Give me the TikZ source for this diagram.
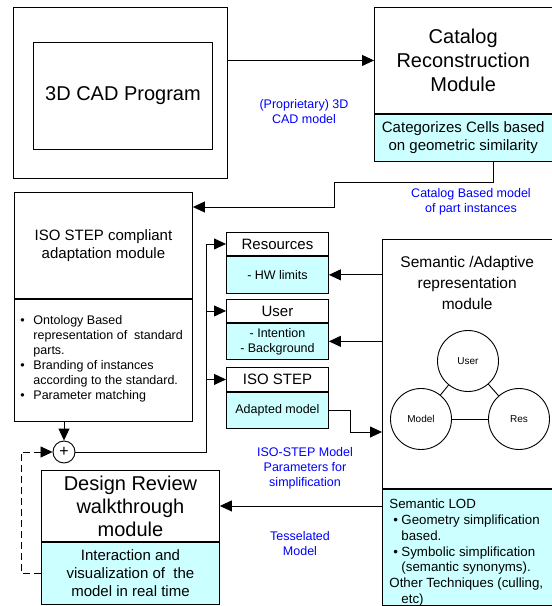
\documentclass[tikz,border=0pt]{standalone}
\usepackage{fontspec}
\setmainfont{Liberation Sans}
\usetikzlibrary{positioning,arrows.meta}
\definecolor{lodcyan}{HTML}{CCFFFF}
\definecolor{notetext}{HTML}{0000FF}
\newcommand{\isobul}{\makebox[13pt][l]{\textbullet}}
\newcommand{\isogap}{\makebox[13pt][l]{}}
\newcommand{\lodbul}{\makebox[4pt]{}\makebox[8pt][l]{\textbullet}}
\newcommand{\lodgap}{\makebox[12pt][l]{}}

\tikzset{
  part/.style={draw, inner sep=0pt, anchor=north west, align=center},
  subpart/.style={part, fill=lodcyan},
  flow/.style={-{Triangle[length=12pt,width=11pt]}},
  note/.style={text=notetext, align=center, font=\fontsize{12.5}{15}\selectfont},
  bigtext/.style={font=\fontsize{20}{24}\selectfont},
  midtext/.style={font=\fontsize{15}{18}\selectfont},
  smalltext/.style={font=\fontsize{12.5}{15}\selectfont},
  facet/.style={draw, circle, minimum size=61pt, inner sep=0pt, font=\fontsize{10}{12}\selectfont}
}

\begin{document}
\begin{tikzpicture}[x=1pt, y=-1pt, line width=0.9pt]
\useasboundingbox (0,0) rectangle (552,606);

% 3D CAD program
\node[part, minimum width=214pt, minimum height=171pt] (cadframe) at (13,7) {};
\node[part, bigtext, minimum width=179pt, minimum height=107pt] (cad) at (33,42) {3D CAD Program};

% catalog reconstruction
\node[part, bigtext, minimum width=177.5pt, minimum height=106pt] (cat) at (374,7) {Catalog\\Reconstruction\\Module};
\node[subpart, midtext, minimum width=177.5pt, minimum height=47pt] (catsub) at (cat.south west) {Categorizes Cells based\\on geometric similarity};

% ISO STEP adaptation
\node[part, midtext, minimum width=178pt, minimum height=106pt] (iso) at (14,192) {ISO STEP compliant\\adaptation module};
\node[part, minimum width=178pt, minimum height=122pt] (isosub) at (iso.south west) {};
\node[smalltext, anchor=north west, align=left, inner sep=0pt] (isolist) at ([xshift=6pt,yshift=-16pt]isosub.north west)
  {\isobul Ontology Based\\ \isogap representation of~ standard\\ \isogap parts.\\ \isobul Branding of instances\\ \isogap according to the standard.\\ \isobul Parameter matching};

% resources, user, iso step
\node[part, midtext, minimum width=102pt, minimum height=23pt] (res) at (226,232) {Resources};
\node[subpart, smalltext, minimum width=102pt, minimum height=37pt] (ressub) at (res.south west) {- HW limits};
\node[part, midtext, minimum width=102pt, minimum height=23pt] (usr) at (226,299) {User};
\node[subpart, smalltext, minimum width=102pt, minimum height=36pt] (usrsub) at (usr.south west) {- Intention\\- Background};
\node[part, midtext, minimum width=102pt, minimum height=24pt] (std) at (226,367) {ISO STEP};
\node[subpart, smalltext, minimum width=102pt, minimum height=36pt] (stdsub) at (std.south west) {Adapted model};

% semantic / adaptive representation
\node[part, minimum width=169.5pt, minimum height=249pt] (sem) at (382,239) {};
\node[font=\fontsize{15.5}{21}\selectfont, align=center, inner sep=0pt, below=17pt of sem.north] (semtitle) {Semantic /Adaptive\\representation\\module};
\node[subpart, minimum width=169.5pt, minimum height=116pt] (semsub) at (sem.south west) {};
\node[font=\fontsize{13.3}{15.7}\selectfont, anchor=north west, align=left, inner sep=0pt] (lodlist) at ([xshift=7pt,yshift=-10pt]semsub.north west)
  {Semantic LOD\\ \lodbul Geometry simplification\\ \lodgap based.\\ \lodbul Symbolic simplification\\ \lodgap (semantic synonyms).\\ Other Techniques (culling,\\ \lodgap etc)};

\node[facet] (fuser) at (468,361) {User};
\node[facet] (fmodel) at (421,419) {Model};
\node[facet] (fres) at (519,419) {Res};
\draw (fuser) -- (fmodel);
\draw (fuser) -- (fres);
\draw (fmodel) -- (fres);

% design review walkthrough
\node[part, font=\fontsize{20}{23}\selectfont, minimum width=178pt, minimum height=71pt] (rev) at (41,470) {Design Review\\walkthrough\\module};
\node[subpart, midtext, minimum width=178pt, minimum height=62pt] (revsub) at (rev.south west) {Interaction and\\visualization of~ the\\model in real time};

\node[draw, circle, minimum size=22pt, inner sep=0pt, font=\fontsize{16}{16}\selectfont] (merge) at (64,452) {+};

% connectors
\draw[flow] (cat.west -| cadframe.east) -- (cat.west);
\coordinate (catbend) at (334,182);
\draw[flow] ([xshift=30pt]catsub.south) |- (catbend) |- ([yshift=-15pt]iso.north east);
\draw[flow] (merge.east) -| ([xshift=-20pt]res.west) -- (res.west);
\draw[flow] ([xshift=-20pt]usr.west) -- (usr.west);
\draw[flow] ([xshift=-20pt]std.west) -- (std.west);
\draw[flow] (isosub.south -| merge.north) -- (merge.north);
\draw[flow, line width=0.7pt, dash pattern=on 7pt off 4pt] (revsub.west) -- ++(-20,0) |- (merge.west);
\draw[flow] (sem.west |- ressub.east) -- (ressub.east);
\draw[flow] (sem.west |- usrsub.east) -- (usrsub.east);
\coordinate (semin) at (382,432);
\draw[flow] (stdsub.east) -- ++(22,0) |- (semin);
\draw[flow] (semsub.west |- rev.east) -- (rev.east);

% labels
\node[note] (cadnote) at (304,112) {(Proprietary) 3D\\CAD model};
\node[note] (catnote) at (471,201.5) {Catalog Based model\\of part instances};
\node[note] (stepnote) at (305,468) {ISO-STEP Model\\Parameters for\\simplification};
\node[note] (tessnote) at (300,543.5) {Tesselated\\Model};
\end{tikzpicture}
\end{document}
